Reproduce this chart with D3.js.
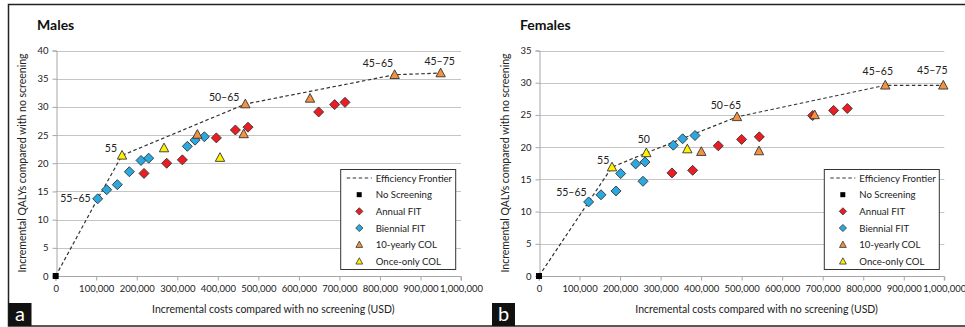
<!DOCTYPE html>
<html>
<head>
<meta charset="utf-8">
<script src="https://cdn.jsdelivr.net/npm/d3@7"></script>
<style>
  html, body { margin: 0; padding: 0; background: #fff; }
  svg { display: block; font-family: Lato, "Open Sans", sans-serif; }
</style>
</head>
<body>
<div id="chart"></div>
<script>
// values: [incremental cost USD, incremental QALYs]
const xTicks = [0, 100000, 200000, 300000, 400000, 500000, 600000, 700000, 800000, 900000, 1000000];
const maleYTicks = [0, 5, 10, 15, 20, 25, 30, 35, 40];
const femaleYTicks = [0, 5, 10, 15, 20, 25, 30, 35];

const maleNoScreening = [[0, 0]];
const maleAnnual = [[217900, 18.2], [273800, 20.0], [312500, 20.6], [396400, 24.5], [443300, 25.9], [474500, 26.4], [648800, 29.1], [688300, 30.4], [713800, 30.8]];
const maleBiennial = [[103600, 13.7], [125800, 15.3], [152000, 16.2], [181700, 18.5], [210500, 20.5], [229400, 20.9], [324800, 23.0], [343800, 24.1], [366800, 24.7]];
const maleTenYearly = [[349500, 25.1], [463800, 25.2], [467900, 30.5], [627500, 31.5], [836300, 35.7], [949800, 36.0]];
const maleOnceOnly = [[163700, 21.4], [267300, 22.7], [405400, 21.0]];
const maleFrontier = [[0, 0], [103600, 13.7], [163700, 21.4], [467900, 30.5], [836300, 35.7], [949800, 36.0]];
const maleFrontierLabels = [null, '55–65', '55', '50–65', '45–65', '45–75'];

const femaleNoScreening = [[0, 0]];
const femaleAnnual = [[328100, 16.0], [379100, 16.4], [442400, 20.2], [500000, 21.2], [543600, 21.6], [675200, 24.9], [727000, 25.7], [760700, 26.0]];
const femaleBiennial = [[122500, 11.5], [153000, 12.6], [190000, 13.2], [201500, 15.9], [238500, 17.4], [256600, 14.7], [261500, 17.7], [331400, 20.3], [354400, 21.3], [384900, 21.8]];
const femaleTenYearly = [[400500, 19.3], [542800, 19.4], [488500, 24.7], [680100, 25.0], [854400, 29.6], [997500, 29.6]];
const femaleOnceOnly = [[180100, 16.9], [264800, 19.1], [366000, 19.7]];
const femaleFrontier = [[0, 0], [122500, 11.5], [180100, 16.9], [264800, 19.1], [488500, 24.7], [854400, 29.6], [997500, 29.6]];
const femaleFrontierLabels = [null, '55–65', '55', '50', '50–65', '45–65', '45–75'];

const legendNames = ['Efficiency Frontier', 'No Screening', 'Annual FIT', 'Biennial FIT', '10-yearly COL', 'Once-only COL'];

const colors = { annual: '#ec1c24', biennial: '#2aa9e0', tenYearly: '#f39240', onceOnly: '#fff200', none: '#000' };

const W = 965, H = 327;
const svg = d3.select('#chart').append('svg').attr('width', W).attr('height', H);
svg.append('rect').attr('width', W).attr('height', H).attr('fill', '#fff');

// outer frame (image is cropped on the right)
svg.append('path')
  .attr('d', `M${W},4.5 H8.5 V326 H${W}`)
  .attr('fill', 'none').attr('stroke', '#222').attr('stroke-width', 1.5);

const diamond = (s) => `M0,${-s} L${s},0 L0,${s} L${-s},0 Z`;
const triangle = (s) => `M0,${-s * 1.05} L${s},${s * 0.8} L${-s},${s * 0.8} Z`;

function drawPanel(p) {
  const g = svg.append('g');
  const x = d3.scaleLinear().domain([0, 1000000]).range([p.x0, p.x1]);
  const y = d3.scaleLinear().domain([0, p.yMax]).range([276, 50.5]);

  // grid
  g.selectAll('.grid').data(p.yTicks.filter(d => d > 0)).enter().append('line')
    .attr('x1', p.x0).attr('x2', p.x1)
    .attr('y1', d => Math.round(y(d)) + 0.5).attr('y2', d => Math.round(y(d)) + 0.5)
    .attr('stroke', '#c4c4c4').attr('stroke-width', 1);

  const yAxis = g.append('g').attr('transform', `translate(${Math.round(p.x0) + 0.5},0)`)
    .call(d3.axisLeft(y).tickValues(p.yTicks).tickSize(4).tickPadding(4).tickFormat(d3.format('d')));
  const xAxis = g.append('g').attr('transform', `translate(0,${Math.round(y(0)) + 0.5})`)
    .call(d3.axisBottom(x).tickValues(xTicks).tickSize(4).tickPadding(5).tickFormat(d3.format(',')));
  [yAxis, xAxis].forEach(a => {
    a.select('.domain').attr('stroke', '#a6a6a6');
    a.selectAll('.tick line').attr('stroke', '#a6a6a6');
    a.selectAll('.tick text').attr('fill', '#222').style('font-size', '9.5px').style('font-family', 'Lato, sans-serif');
  });
  xAxis.select('.domain').attr('d', `M${p.x0},4V0H${p.x1}V4`);

  // frontier
  g.append('path').datum(p.frontier)
    .attr('d', d3.line().x(d => x(d[0])).y(d => y(d[1])))
    .attr('fill', 'none').attr('stroke', '#333').attr('stroke-width', 1.2).attr('stroke-dasharray', '3.5,2.5');

  const marks = (data, shape, fill, size) => {
    g.selectAll(null).data(data).enter().append('path')
      .attr('transform', d => `translate(${x(d[0])},${y(d[1])})`)
      .attr('d', shape(size)).attr('fill', fill).attr('stroke', '#333').attr('stroke-width', 0.9);
  };
  marks(p.annual, diamond, colors.annual, 5);
  marks(p.biennial, diamond, colors.biennial, 5);
  marks(p.tenYearly, triangle, colors.tenYearly, 4.7);
  marks(p.onceOnly, triangle, colors.onceOnly, 4.7);
  g.selectAll(null).data(p.noScreening).enter().append('rect')
    .attr('x', d => x(d[0]) - 3).attr('y', d => y(d[1]) - 3).attr('width', 6).attr('height', 6).attr('fill', '#000');

  // strategy labels on the frontier
  p.frontier.forEach((d, i) => {
    const t = p.labels[i];
    if (!t) return;
    const o = p.labelPos[i];
    g.append('text').attr('x', x(d[0]) + o[0]).attr('y', y(d[1]) + o[1] + 3.5)
      .attr('text-anchor', o[2]).style('font-size', '10.5px').attr('fill', '#222').text(t);
  });

  // title, axis titles
  svg.append('text').attr('x', p.titleX).attr('y', 30).style('font-size', '14px').style('font-weight', 'bold')
    .attr('fill', '#111').text(p.title);
  svg.append('text').attr('transform', `translate(${p.yLabelX},163) rotate(-90)`).attr('text-anchor', 'middle')
    .style('font-size', '10.5px').attr('fill', '#222').text('Incremental QALYs compared with no screening');
  svg.append('text').attr('x', (p.x0 + p.x1) / 2 + 15).attr('y', 313).attr('text-anchor', 'middle')
    .style('font-size', '10.5px').attr('fill', '#222').text('Incremental costs compared with no screening (USD)');

  // panel letter
  svg.append('rect').attr('x', p.letterX).attr('y', 303).attr('width', 23).attr('height', 23).attr('fill', '#111');
  svg.append('text').attr('x', p.letterX + 11.5).attr('y', 321).attr('text-anchor', 'middle')
    .style('font-size', '20px').attr('fill', '#fff').text(p.letter);

  // legend
  const lg = svg.append('g').attr('transform', `translate(${p.legendX},169.5)`);
  lg.append('rect').attr('width', 115).attr('height', 100).attr('fill', '#fff').attr('stroke', '#333').attr('stroke-width', 1);
  legendNames.forEach((name, i) => {
    const cy = 8.5 + i * 16.67;
    const row = lg.append('g').attr('transform', `translate(0,${cy})`);
    if (i === 0) {
      row.append('line').attr('x1', 6).attr('x2', 31).attr('stroke', '#333').attr('stroke-width', 1.2).attr('stroke-dasharray', '3.5,2.5');
    } else if (i === 1) {
      row.append('rect').attr('x', 16).attr('y', -2.5).attr('width', 5).attr('height', 5).attr('fill', '#000');
    } else {
      const fill = [null, null, colors.annual, colors.biennial, colors.tenYearly, colors.onceOnly][i];
      const shape = i < 4 ? diamond(3.6) : triangle(3.4);
      row.append('path').attr('transform', 'translate(18.6,0)').attr('d', shape).attr('fill', fill).attr('stroke', '#333').attr('stroke-width', 0.8);
    }
    row.append('text').attr('x', 35).attr('y', 3.5).style('font-size', '9.6px').attr('fill', '#222').text(name);
  });
}

drawPanel({
  x0: 55.7, x1: 461, yMax: 40, yTicks: maleYTicks,
  noScreening: maleNoScreening, annual: maleAnnual, biennial: maleBiennial, tenYearly: maleTenYearly, onceOnly: maleOnceOnly,
  frontier: maleFrontier, labels: maleFrontierLabels,
  labelPos: [null, [-7, 0, 'end'], [-5, -6.5, 'end'], [-6, -7, 'end'], [-1.5, -11.5, 'end'], [-1, -12, 'middle']],
  title: 'Males', titleX: 37, yLabelX: 26, letter: 'a', letterX: 8.5, legendX: 340.7
});

drawPanel({
  x0: 539, x1: 944.3, yMax: 35, yTicks: femaleYTicks,
  noScreening: femaleNoScreening, annual: femaleAnnual, biennial: femaleBiennial, tenYearly: femaleTenYearly, onceOnly: femaleOnceOnly,
  frontier: femaleFrontier, labels: femaleFrontierLabels,
  labelPos: [null, [-2, -9.7, 'end'], [-2.7, -6.5, 'end'], [-2.5, -13.4, 'middle'], [-11, -11.7, 'middle'], [-7.5, -13.7, 'middle'], [-11, -14.3, 'middle']],
  title: 'Females', titleX: 520, yLabelX: 509, letter: 'b', letterX: 492, legendX: 824.3
});
</script>
</body>
</html>
